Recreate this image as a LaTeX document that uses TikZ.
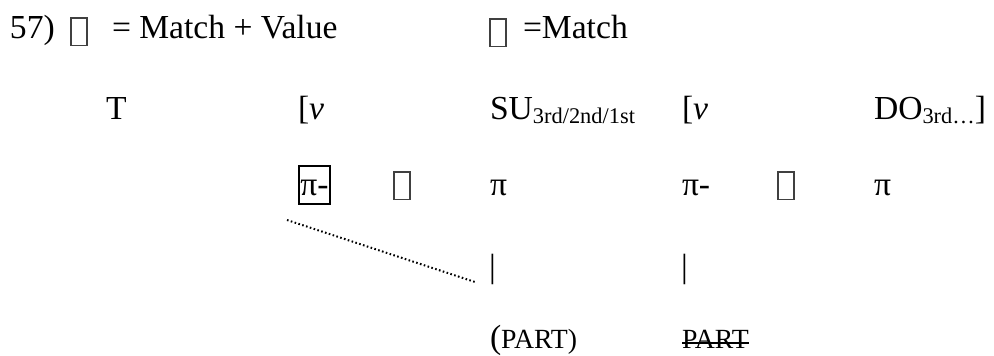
\documentclass[tikz,border=0pt]{standalone}
\usepackage{fontspec}
\setmainfont{Liberation Serif}
\newcommand{\subtxt}[1]{\raisebox{-0.14em}{\fontsize{8.4}{9}\selectfont #1}}
\begin{document}
\begin{tikzpicture}[x=0.375pt,y=-0.375pt,
  every node/.style={inner sep=0pt,outer sep=0pt,anchor=base west,font=\fontsize{12.6}{15}\selectfont},
  tofu/.style={draw=black!75,line width=0.4pt,minimum width=6pt,minimum height=10.4pt,anchor=north west},
  framed/.style={draw,line width=0.75pt,inner xsep=0.5pt,inner ysep=0pt,text depth=0.33em,text height=1.1em},
  link/.style={line width=0.75pt,dash pattern=on 0.6pt off 0.9pt},
  strike/.style={line width=0.45pt}]
\useasboundingbox (0,0) rectangle (994,355);

% heading line
\node (num) at (10,38) {57)};
\node[tofu] (symA) at (71,18) {};
\node (defA) at (112,38) {= Match + Value};
\node[tofu] (symB) at (490,19) {};
\node (defB) at (523,38) {=Match};

% clause row
\node (t) at (106,119) {T};
\node (vA) at (298,119) {[\textit{v}};
\node (su) at (490,119) {SU\subtxt{3rd/2nd/1st}};
\node (vB) at (682,119) {[\textit{v}};
\node (do) at (874,119) {DO\subtxt{3rd\ldots}]};

% pi row
\node[framed,anchor=base west] (piA) at (299,195) {π-};
\node[tofu] (symC) at (394,172) {};
\node (piB) at (490,195) {π};
\node (piC) at (682,195) {π-};
\node[tofu] (symD) at (778,172) {};
\node (piD) at (874,195) {π};

% bars
\node (barA) at (489,277) {|};
\node (barB) at (681,277) {|};

% particle row
\node (partA) at (490,348) {(\fontsize{10.4}{12}\selectfont PART)};
\node (partB) at (682,348) {\fontsize{10.4}{12}\selectfont PART};
\draw[strike] (partB.west |- 0,343) -- (partB.east |- 0,343);

% dotted link
\coordinate (linkS) at (287,220);
\coordinate (linkE) at (475,282);
\draw[link] (linkS) -- (linkE);
\end{tikzpicture}
\end{document}
